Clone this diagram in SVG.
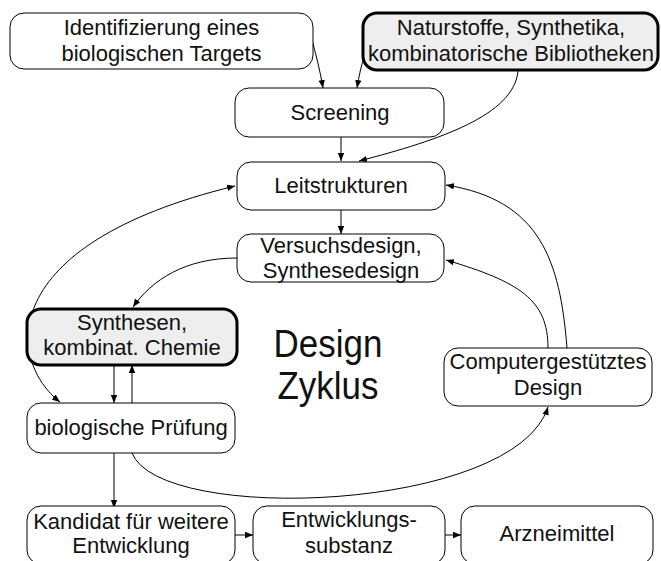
<svg xmlns="http://www.w3.org/2000/svg" width="661" height="561" viewBox="0 0 661 561">
  <style>
    .box { fill: #ffffff; stroke: #000000; stroke-width: 1; }
    .key { fill: #eeeeee; stroke: #000000; stroke-width: 3; }
    .lbl { font-family: "Liberation Sans", Arial, sans-serif; font-size: 22px; fill: #111111; text-anchor: middle; }
    .big { font-family: "Liberation Sans", Arial, sans-serif; font-size: 38px; fill: #111111; text-anchor: middle; }
    .edge { fill: none; stroke: #000000; stroke-width: 1; }
  </style>
  <defs>
    <marker id="arrow" viewBox="0 0 10 10" refX="10" refY="5" markerWidth="8" markerHeight="8" markerUnits="userSpaceOnUse" orient="auto-start-reverse">
      <path d="M0,1 L10,5 L0,9 Z" fill="#000000"/>
    </marker>
  </defs>
  <rect width="661" height="561" fill="#ffffff"/>

  <!-- connectors -->
  <g id="connectors">
    <path class="edge" d="M311,36 C316,55 320,70 323,88" marker-end="url(#arrow)"/>
    <path class="edge" d="M365,54 C361,66 359,76 357,88" marker-end="url(#arrow)"/>
    <path class="edge" d="M518,71 C514,115 440,140 359,161" marker-end="url(#arrow)"/>
    <path class="edge" d="M341,137 L341,161" marker-end="url(#arrow)"/>
    <path class="edge" d="M341,210 L341,234" marker-end="url(#arrow)"/>
    <path class="edge" d="M60,402 C8,362 -8,245 235,186" marker-start="url(#arrow)" marker-end="url(#arrow)"/>
    <path class="edge" d="M237,258 C185,258 152,280 133,307" marker-end="url(#arrow)"/>
    <path class="edge" d="M114,365 L114,403" marker-end="url(#arrow)"/>
    <path class="edge" d="M132,403 L132,365" marker-end="url(#arrow)"/>
    <path class="edge" d="M548,348 C548,300 520,282 446,260" marker-end="url(#arrow)"/>
    <path class="edge" d="M567,348 C560,260 540,200 446,185" marker-end="url(#arrow)"/>
    <path class="edge" d="M132,453 C160,525 515,512 548,407" marker-end="url(#arrow)"/>
    <path class="edge" d="M114,453 L114,508" marker-end="url(#arrow)"/>
    <path class="edge" d="M235,535 L253,535" marker-end="url(#arrow)"/>
    <path class="edge" d="M445,535 L461,535" marker-end="url(#arrow)"/>
  </g>

  <g id="target">
    <rect class="box" x="10" y="13" width="303" height="56" rx="14"/>
    <text class="lbl" x="161.5" y="35">Identifizierung eines</text>
    <text class="lbl" x="161.5" y="61">biologischen Targets</text>
  </g>
  <g id="sources">
    <rect class="key" x="363" y="13" width="295" height="57" rx="14"/>
    <text class="lbl" x="511" y="35">Naturstoffe, Synthetika,</text>
    <text class="lbl" x="511" y="61">kombinatorische Bibliotheken</text>
  </g>
  <g id="screening">
    <rect class="box" x="235" y="88" width="209" height="49" rx="14"/>
    <text class="lbl" x="340" y="120">Screening</text>
  </g>
  <g id="leads">
    <rect class="box" x="237" y="162" width="208" height="48" rx="14"/>
    <text class="lbl" x="341" y="193">Leitstrukturen</text>
  </g>
  <g id="design">
    <rect class="box" x="237" y="234" width="207" height="48" rx="14"/>
    <text class="lbl" x="341" y="253">Versuchsdesign,</text>
    <text class="lbl" x="341" y="278">Synthesedesign</text>
  </g>
  <g id="synthesis">
    <rect class="key" x="27" y="309" width="210" height="56" rx="14"/>
    <text class="lbl" x="132" y="330">Synthesen,</text>
    <text class="lbl" x="132" y="355">kombinat. Chemie</text>
  </g>
  <g id="cycle-label">
    <text class="big" transform="translate(328,357) scale(0.92,1)">Design</text>
    <text class="big" transform="translate(328,399) scale(0.92,1)">Zyklus</text>
  </g>
  <g id="computer">
    <rect class="box" x="444" y="348" width="208" height="58" rx="14"/>
    <text class="lbl" x="548" y="369">Computergestütztes</text>
    <text class="lbl" x="548" y="395">Design</text>
  </g>
  <g id="testing">
    <rect class="box" x="27" y="403" width="208" height="50" rx="14"/>
    <text class="lbl" x="131" y="435">biologische Prüfung</text>
  </g>
  <g id="candidate">
    <rect class="box" x="27" y="506" width="208" height="58" rx="14"/>
    <text class="lbl" x="131" y="529">Kandidat für weitere</text>
    <text class="lbl" x="131" y="553">Entwicklung</text>
  </g>
  <g id="development">
    <rect class="box" x="253" y="506" width="192" height="58" rx="14"/>
    <text class="lbl" x="349" y="527">Entwicklungs-</text>
    <text class="lbl" x="349" y="553">substanz</text>
  </g>
  <g id="drug">
    <rect class="box" x="461" y="506" width="192" height="58" rx="14"/>
    <text class="lbl" x="557" y="541">Arzneimittel</text>
  </g>
</svg>
